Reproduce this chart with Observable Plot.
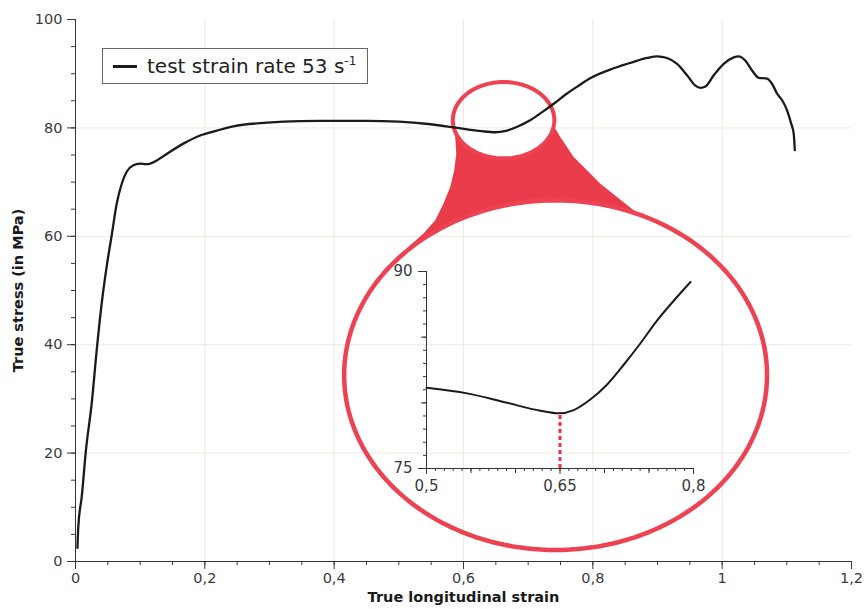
<!DOCTYPE html>
<html>
<head>
<meta charset="utf-8">
<script src="https://cdn.jsdelivr.net/npm/d3@7"></script>
<script src="https://cdn.jsdelivr.net/npm/@observablehq/plot@0.6"></script>
<style>
  body { margin: 0; background: #fff; }
  #wrap { position: relative; width: 864px; height: 609px; font-family: "DejaVu Sans", sans-serif; }
  #inset { position: absolute; left: 390px; top: 255px; }
  #legend { position: absolute; left: 102px; top: 48px; width: 266px; height: 36px; box-sizing: border-box;
            border: 1px solid #666; background: #fff; }
  #legend .swatch { position: absolute; left: 10px; top: 16px; width: 24px; height: 3px; background: #1a1a1a; }
  #legend .label { position: absolute; left: 44px; top: 0; line-height: 34px; font-size: 20px; color: #222; white-space: nowrap; }
  #legend sup { font-size: 0.6em; vertical-align: 0; position: relative; top: -0.7em; }
</style>
</head>
<body>
<div id="wrap">
  <div id="main"></div>
  <div id="inset"></div>
  <div id="legend"><div class="swatch"></div><div class="label" id="legendText"></div></div>
</div>
<script>
// ---- data: true stress–strain curve ----
const strain = [0.003, 0.0043, 0.0096, 0.0162, 0.0251, 0.0328, 0.0405, 0.0483, 0.056, 0.0637,
  0.0715, 0.0792, 0.0895, 0.0998, 0.110, 0.1256, 0.141, 0.1668, 0.1927, 0.2185,
  0.2442, 0.2959, 0.3474, 0.40, 0.45, 0.50, 0.5457, 0.5906, 0.628, 0.6487,
  0.6655, 0.684, 0.703, 0.7216, 0.740, 0.759, 0.778, 0.7966, 0.8322, 0.8632,
  0.8839, 0.8993, 0.9148, 0.9303, 0.9458, 0.9586, 0.9663, 0.9741, 0.987, 1.0024,
  1.0179, 1.0256, 1.036, 1.0463, 1.0566, 1.0696, 1.0773, 1.085, 1.0928, 1.1005,
  1.1067, 1.1107, 1.1123];
const stress = [2.5, 6.4, 11.9, 20.6, 29.2, 39.0, 47.6, 54.5, 60.2, 66.0,
  69.7, 71.9, 73.1, 73.4, 73.3, 74.0, 75.2, 77.1, 78.6, 79.5,
  80.3, 80.96, 81.25, 81.3, 81.3, 81.15, 80.72, 80.0, 79.4, 79.2,
  79.45, 80.25, 81.4, 82.9, 84.5, 86.26, 87.79, 89.2, 91.0, 92.2,
  92.9, 93.2, 92.9, 91.8, 89.7, 87.8, 87.4, 87.65, 89.7, 91.8,
  93.0, 93.2, 92.4, 90.6, 89.25, 89.1, 88.1, 86.3, 85.1, 83.2,
  80.8, 78.9, 75.9];

const xTicks = [0, 0.2, 0.4, 0.6, 0.8, 1, 1.2];
const yTicks = [0, 20, 40, 60, 80, 100];
const insetXTicks = [0.5, 0.65, 0.8];
const insetYTicks = [75, 90];
const minStrain = 0.65, minStress = 79.2;
const xTitle = "True longitudinal strain";
const yTitle = "True stress (in MPa)";
const legendLabel = "test strain rate 53 s";
const legendSup = "-1";

// ---- annotation geometry (data coordinates) ----
const bigEllipse = {cx: 0.7424, cy: 34.38, rx: 0.327, ry: 32.26};
const smallEllipse = {cx: 0.662, cy: 81.42, rx: 0.0785, ry: 7.04};
const funnelLeft = [[0.5846, 80.46], [0.5872, 78.30], [0.5888, 75.24], [0.5857, 72.17], [0.5795, 69.09],
  [0.5691, 66.03], [0.5563, 62.95], [0.5382, 60.50], [0.5176, 58.34]];
const funnelRight = [[0.9303, 60.50], [0.8941, 62.64], [0.8631, 64.79], [0.8374, 67.24], [0.8116, 69.71],
  [0.7910, 72.17], [0.7703, 74.62], [0.7497, 78.30], [0.7404, 80.15]];

const curve = strain.map((x, i) => ({x, y: stress[i]}));
const fmt = d => String(d).replace(".", ",");
const arc = (e, a0, a1, n) => d3.range(n + 1).map(i => {
  const t = (a0 + (a1 - a0) * i / n) * Math.PI / 180;
  return {x: e.cx + e.rx * Math.cos(t), y: e.cy + e.ry * Math.sin(t)};
});
const pt = ([x, y]) => ({x, y});
const funnel = [
  ...funnelLeft.map(pt),
  ...arc(bigEllipse, 138, 50.5, 40),
  ...funnelRight.map(pt),
  ...arc(smallEllipse, -10, -170, 40)
];
const bigPts = arc(bigEllipse, 0, 360, 180);
const smallPts = arc(smallEllipse, 0, 360, 120);

const red = "#ea3b4b";
const font = "DejaVu Sans, sans-serif";
const gridColor = "#ebebdc";

const main = Plot.plot({
  width: 864, height: 609,
  marginLeft: 75, marginRight: 13, marginTop: 19, marginBottom: 48,
  x: {domain: [0, 1.2], label: null},
  y: {domain: [0, 100], label: null},
  style: {fontFamily: font, fontSize: "14.5px", color: "#3a3a3a", background: "white"},
  marks: [
    Plot.gridX({ticks: xTicks.filter(d => d > 0 && d < 1.2), stroke: gridColor, strokeOpacity: 1}),
    Plot.gridY({ticks: yTicks.filter(d => d > 0 && d < 100), stroke: gridColor, strokeOpacity: 1}),
    Plot.line(funnel, {x: "x", y: "y", fill: red, stroke: "none", curve: "linear"}),
    Plot.line(bigPts, {x: "x", y: "y", stroke: "#ec4252", strokeWidth: 4.5, curve: "linear"}),
    Plot.line(smallPts, {x: "x", y: "y", stroke: "#ec4252", strokeWidth: 4, curve: "linear"}),
    Plot.axisX({ticks: d3.range(0, 25).map(d => d * 0.05), tickSize: 4, tickFormat: () => "", label: null}),
    Plot.axisX({ticks: xTicks, tickSize: 8, tickPadding: 3, tickFormat: fmt, label: null}),
    Plot.axisY({ticks: d3.range(0, 101, 5), tickSize: 4, tickFormat: () => "", label: null}),
    Plot.axisY({ticks: yTicks, tickSize: 8, tickPadding: 5, label: null}),
    Plot.ruleY([0], {stroke: "#333"}),
    Plot.ruleX([0], {stroke: "#333"}),
    Plot.line(curve, {x: "x", y: "y", stroke: "#1a1a1a", strokeWidth: 2.3, curve: "monotone-x"}),
    Plot.text([xTitle], {text: d => d, frameAnchor: "bottom", dy: 40, fontWeight: "bold", fontSize: 14.5, fill: "#1a1a1a"}),
    Plot.text([yTitle], {text: d => d, frameAnchor: "left", textAnchor: "middle", dx: -57, rotate: -90, fontWeight: "bold", fontSize: 14.5, fill: "#1a1a1a"})
  ]
});
document.getElementById("main").appendChild(main);

const inset = Plot.plot({
  width: 323, height: 250,
  marginLeft: 36, marginRight: 20, marginTop: 16, marginBottom: 37,
  x: {domain: [0.5, 0.8], label: null},
  y: {domain: [75, 90], label: null},
  style: {fontFamily: font, fontSize: "15px", color: "#3a3a3a", background: "none", overflow: "visible"},
  marks: [
    Plot.axisX({ticks: d3.range(50, 81).map(d => d / 100), tickSize: 3, tickFormat: () => "", label: null}),
    Plot.axisX({ticks: [0.55, 0.6, 0.7, 0.75], tickSize: 5, tickFormat: () => "", label: null}),
    Plot.axisX({ticks: insetXTicks, tickSize: 6, tickPadding: 6, tickFormat: fmt, label: null}),
    Plot.axisY({ticks: d3.range(75, 91), tickSize: 3, tickFormat: () => "", label: null}),
    Plot.axisY({ticks: [80, 85], tickSize: 5, tickFormat: () => "", label: null}),
    Plot.axisY({ticks: insetYTicks, tickSize: 8, tickPadding: 6, label: null}),
    Plot.ruleX([0.5], {stroke: "#333"}),
    Plot.ruleY([75], {stroke: "#333"}),
    Plot.ruleX([minStrain], {y1: 75, y2: minStress, stroke: "#e8323f", strokeWidth: 3, strokeDasharray: "4,3"}),
    Plot.line(curve.filter(d => d.x >= 0.5 && d.x <= 0.8), {x: "x", y: "y", stroke: "#1a1a1a", strokeWidth: 2, curve: "monotone-x"})
  ]
});
document.getElementById("inset").appendChild(inset);

document.getElementById("legendText").innerHTML = legendLabel + "<sup>" + legendSup + "</sup>";
</script>
</body>
</html>
